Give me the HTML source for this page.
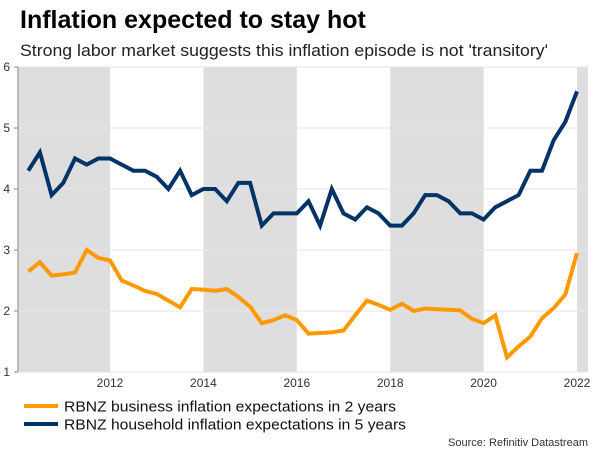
<!DOCTYPE html>
<html><head><meta charset="utf-8"><style>
html,body{margin:0;padding:0;background:#fff;width:600px;height:450px;overflow:hidden;font-family:"Liberation Sans",Arial,sans-serif}
svg text{font-family:"Liberation Sans",Arial,sans-serif}
</style></head><body>
<svg id="chart" width="600" height="450">
<text x="20" y="28" font-size="25" font-weight="bold" fill="#000">Inflation expected to stay hot</text>
<text x="20" y="56" font-size="17" fill="#222" textLength="528" lengthAdjust="spacingAndGlyphs">Strong labor market suggests this inflation episode is not 'transitory'</text>
<g id="bands"></g><g id="grid"></g><g id="axes"></g><g id="lines"></g>
<g>
<line x1="24" y1="406" x2="58" y2="406" stroke="#ff9900" stroke-width="4"/>
<text x="64" y="411.5" font-size="15" fill="#111" textLength="332" lengthAdjust="spacingAndGlyphs">RBNZ business inflation expectations in 2 years</text>
<line x1="24" y1="424" x2="58" y2="424" stroke="#003366" stroke-width="4"/>
<text x="64" y="429.5" font-size="15" fill="#111" textLength="342" lengthAdjust="spacingAndGlyphs">RBNZ household inflation expectations in 5 years</text>
</g>
<text x="588" y="446" font-size="11" fill="#333" text-anchor="end">Source: Refinitiv Datastream</text>
</svg>
<script>
const household=[4.3,4.6,3.9,4.1,4.5,4.4,4.5,4.5,4.4,4.3,4.3,4.2,4.0,4.3,3.9,4.0,4.0,3.8,4.1,4.1,3.4,3.6,3.6,3.6,3.8,3.4,4.0,3.6,3.5,3.7,3.6,3.4,3.4,3.6,3.9,3.9,3.8,3.6,3.6,3.5,3.7,3.8,3.9,4.3,4.3,4.8,5.1,5.6];
const business=[2.65,2.8,2.58,2.6,2.63,3.0,2.87,2.83,2.5,2.42,2.33,2.28,2.17,2.06,2.36,2.35,2.33,2.36,2.23,2.07,1.8,1.85,1.93,1.85,1.63,1.64,1.65,1.68,1.93,2.17,2.1,2.02,2.12,2.0,2.04,2.03,2.02,2.01,1.87,1.8,1.93,1.24,1.42,1.58,1.88,2.05,2.27,2.95];
const startYear=2010.25;
const yTicks=[1,2,3,4,5,6];
const xTicks=[2012,2014,2016,2018,2020,2022];
const bandsData=[[2010,2012],[2014,2016],[2018,2020],[2022,2022.25]];
const NS="http://www.w3.org/2000/svg";
const X0=18,X1=588;
function xs(t){return 110+(t-2012)*46.7;}
function ys(v){return 372-(v-1)*61;}
function mk(tag,attrs,parent){const e=document.createElementNS(NS,tag);for(const k in attrs)e.setAttribute(k,attrs[k]);parent.appendChild(e);return e;}
const bands=document.getElementById('bands'),grid=document.getElementById('grid'),axes=document.getElementById('axes'),lines=document.getElementById('lines');
bandsData.forEach(b=>{const a=Math.max(X0,xs(b[0])),c=Math.min(X1,xs(b[1]));
const r=mk('rect',{x:a,y:ys(6),width:c-a,height:ys(1)-ys(6),fill:'#dedede'},bands);

});
yTicks.forEach(v=>{const l=mk('line',{x1:X0,x2:X1,y1:ys(v),y2:ys(v),stroke:'#e6e6e6','stroke-width':1},grid);


const t=mk('text',{x:10,y:ys(v)+4,'font-size':12,fill:'#333','text-anchor':'end'},axes);t.textContent=v;


mk('line',{x1:14,x2:X0,y1:ys(v),y2:ys(v),stroke:'#888'},axes);});
const ax=mk('line',{x1:X0,x2:X0,y1:ys(6),y2:ys(1),stroke:'#888'},axes);


xTicks.forEach(v=>{const t=mk('text',{x:xs(v),y:387,'font-size':12,fill:'#333','text-anchor':'middle'},axes);t.textContent=v;

});
function draw(d,color,name){const p=d.map((v,i)=>xs(startYear+i*0.25).toFixed(1)+','+ys(v).toFixed(1)).join(' ');
const l=mk('polyline',{points:p,fill:'none',stroke:color,'stroke-width':4,'stroke-linejoin':'miter'},lines);

}
draw(business,'#ff9900','business-line');
draw(household,'#003366','household-line');
</script>
</body></html>
